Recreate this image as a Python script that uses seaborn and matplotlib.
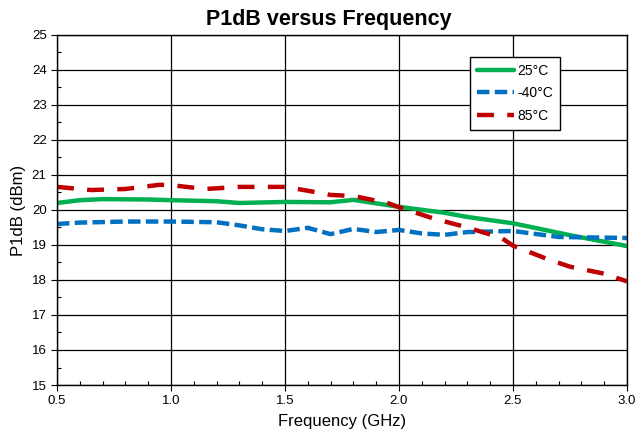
import pandas as pd
import numpy as np
import matplotlib.pyplot as plt
import seaborn as sns
from matplotlib.ticker import MultipleLocator

# values
freq_25 = [0.5, 0.6, 0.7, 0.9, 1.0, 1.2, 1.3, 1.5, 1.7, 1.8, 2.0, 2.2, 2.3, 2.5, 2.75, 3.0]
p1db_25 = [20.2, 20.28, 20.31, 20.3, 20.28, 20.25, 20.2, 20.23, 20.22, 20.29, 20.09, 19.92, 19.8, 19.62, 19.28, 18.97]

freq_m40 = [0.5, 0.6, 0.8, 1.0, 1.2, 1.3, 1.4, 1.5, 1.6, 1.7, 1.8, 1.9, 2.0, 2.1, 2.2, 2.3, 2.5, 2.7, 3.0]
p1db_m40 = [19.6, 19.64, 19.67, 19.67, 19.65, 19.56, 19.45, 19.4, 19.49, 19.31, 19.46, 19.37, 19.43, 19.33, 19.29, 19.37, 19.4, 19.23, 19.2]

freq_85 = [0.5, 0.65, 0.8, 0.95, 1.0, 1.15, 1.3, 1.5, 1.6, 1.7, 1.8, 1.95, 2.0, 2.15, 2.3, 2.45, 2.5, 2.65, 2.75, 2.9, 3.0]
p1db_85 = [20.66, 20.57, 20.6, 20.72, 20.71, 20.6, 20.66, 20.66, 20.55, 20.43, 20.4, 20.2, 20.08, 19.76, 19.5, 19.2, 18.98, 18.6, 18.38, 18.18, 17.96]

labels = ["25°C", "-40°C", "85°C"]
colors = {"25°C": "#00B050", "-40°C": "#0070C0", "85°C": "#C00000"}
dashes = {"25°C": "", "-40°C": (2.8, 1.2), "85°C": (3.8, 3.0)}

df = pd.concat([
    pd.DataFrame({"Frequency": freq_25, "P1dB": p1db_25, "Temp": labels[0]}),
    pd.DataFrame({"Frequency": freq_m40, "P1dB": p1db_m40, "Temp": labels[1]}),
    pd.DataFrame({"Frequency": freq_85, "P1dB": p1db_85, "Temp": labels[2]}),
])

sns.set_style("white")
plt.rcParams["font.family"] = ["Liberation Sans", "DejaVu Sans"]
plt.rcParams["text.color"] = "black"
plt.rcParams["axes.labelcolor"] = "black"

fig = plt.figure(figsize=(6.44, 4.34), dpi=100)
ax = fig.add_axes([0.0885, 0.1129, 0.8851, 0.8065])

sns.lineplot(
    data=df, x="Frequency", y="P1dB",
    hue="Temp", style="Temp",
    hue_order=labels, style_order=labels,
    palette=colors, dashes=dashes,
    linewidth=3.2, sort=False, estimator=None,
    ax=ax
)

ax.set_xlim(0.5, 3.0)
ax.set_ylim(15, 25)
ax.xaxis.set_major_locator(MultipleLocator(0.5))
ax.xaxis.set_minor_locator(MultipleLocator(0.1))
ax.yaxis.set_major_locator(MultipleLocator(1))
ax.yaxis.set_minor_locator(MultipleLocator(0.5))
ax.xaxis.set_major_formatter(plt.FormatStrFormatter("%.1f"))

ax.grid(True, which="major", color="black", linewidth=0.9)
for s in ax.spines.values():
    s.set_color("black")
    s.set_linewidth(1.0)

ax.tick_params(axis="both", which="major", labelsize=9.5, length=4, width=0.8,
               direction="out", colors="black", bottom=True, left=True)
ax.tick_params(axis="both", which="minor", length=3, width=0.8, direction="in",
               bottom=True, left=True, colors="black")

ax.set_title("P1dB versus Frequency", fontsize=15.5, weight="bold", pad=7, x=0.477)
ax.set_xlabel("Frequency (GHz)", fontsize=12, labelpad=5)
ax.set_ylabel("P1dB (dBm)", fontsize=12, labelpad=4)

leg = ax.legend(
    loc="upper right", bbox_to_anchor=(0.882, 0.937),
    fontsize=10, frameon=True, fancybox=False, framealpha=1,
    handlelength=2.7, handletextpad=0.2, labelspacing=0.6,
    borderpad=0.5, borderaxespad=0
)
leg.get_frame().set_edgecolor("black")
leg.get_frame().set_linewidth(1.0)

plt.savefig("out.png", dpi=100)
